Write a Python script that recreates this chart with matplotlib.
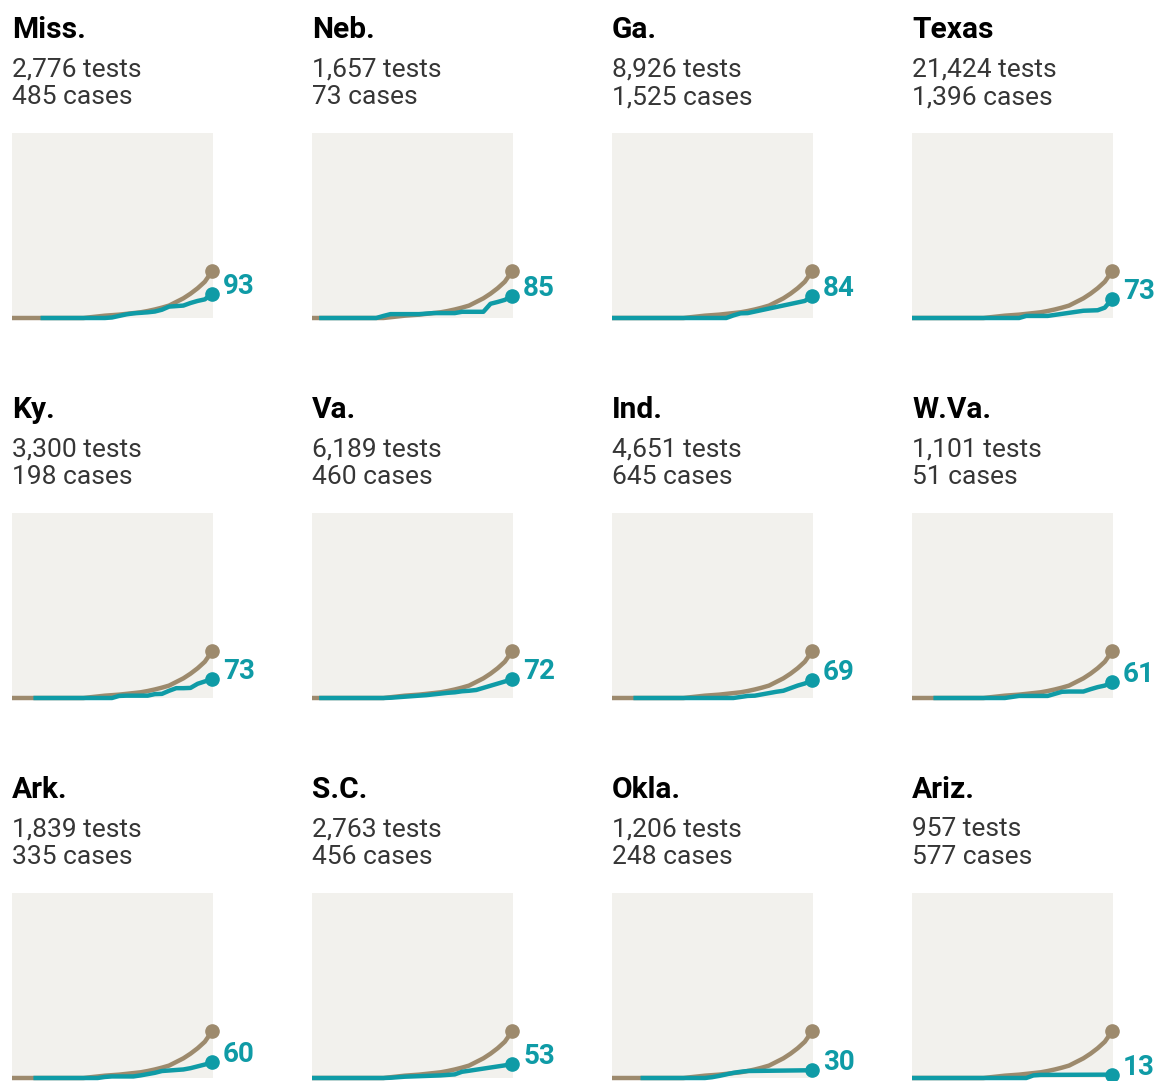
import matplotlib
matplotlib.use('Agg')
import matplotlib.pyplot as plt
import numpy as np

W, H = 1160, 1081
TAN = '#9d8a6d'
TEAL = '#0f9ba6'
BOX = '#f2f1ed'

states = ['Miss.', 'Neb.', 'Ga.', 'Texas',
          'Ky.', 'Va.', 'Ind.', 'W.Va.',
          'Ark.', 'S.C.', 'Okla.', 'Ariz.']
tests = ['2,776', '1,657', '8,926', '21,424',
         '3,300', '6,189', '4,651', '1,101',
         '1,839', '2,763', '1,206', '957']
cases = ['485', '73', '1,525', '1,396',
         '198', '460', '645', '51',
         '335', '456', '248', '577']
latest = [93, 85, 84, 73, 73, 72, 69, 61, 60, 53, 30, 13]

days = list(range(29))

# reference line, the same in every panel (tests per 100,000)
reference = [0, 0, 0, 0, 0, 0, 0, 0, 0, 0, 0, 3, 6, 9, 11, 13, 16, 19, 22,
             27, 33, 40, 48, 62, 76, 94, 115, 140, 180]

N = None
state_tests = {
    'Miss.': [N, N, N, N, 0, 0, 0, 0, 0, 0, 0, 0, 0, 0, 2, 8, 14, 18, 20,
              22, 25, 32, 44, 46, 48, 58, 66, 72, 93],
    'Neb.': [N, 0, 0, 0, 0, 0, 0, 0, 0, 0, 8, 15, 15, 15, 15, 15, 17, 19, 19,
             19, 19, 24, 24, 24, 24, 55, 62, 70, 85],
    'Ga.': [0, 0, 0, 0, 0, 0, 0, 0, 0, 0, 0, 0, 0, 0, 0, 0, 0, 10, 18,
            19, N, N, N, N, N, N, N, 66, 84],
    'Texas': [0, 0, 0, 0, 0, 0, 0, 0, 0, 0, 0, 0, 0, 0, 0, 0, 8, 8, 8,
              8, N, N, N, N, 28, 29, 30, 40, 73],
    'Ky.': [N, N, N, 0, 0, 0, 0, 0, 0, 0, 0, 0, 0, 0, 0, 8, 9, 9, 9,
            9, 15, 16, 28, 38, 38, 39, 55, 64, 73],
    'Va.': [N, 0, 0, 0, 0, 0, 0, 0, 0, 0, 0, 1, 3, 5, 7, 9, 11, 14, 17,
            20, 22, 26, 28, 31, N, N, N, N, 72],
    'Ind.': [N, N, N, 0, 0, 0, 0, 0, 0, 0, 0, 0, 0, 0, 0, 0, 0, 0, 4,
             8, 9, 14, 19, 24, 28, 38, 48, 56, 69],
    'W.Va.': [N, N, N, 0, 0, 0, 0, 0, 0, 0, 0, 0, 0, 0, 4, 8, 8, 8, 8,
              8, 16, 24, 25, 25, 25, 34, 42, 48, 61],
    'Ark.': [N, N, N, 0, 0, 0, 0, 0, 0, 0, 0, 0, 0, 4, 6, 6, 6, 6, 10,
             15, 20, 27, 29, 31, 33, 38, 45, 52, 60],
    'S.C.': [0, 0, 0, 0, 0, 0, 0, 0, 0, 0, 0, 1, 3, 5, 6, 7, 8, 9, 10,
             12, 14, 24, 28, N, N, N, N, N, 53],
    'Okla.': [N, N, N, N, 0, 0, 0, 0, 0, 0, 0, 0, 0, 0, 3, 8, 14, 20, 24,
              27, N, N, N, N, N, N, N, N, 30],
    'Ariz.': [0, 0, 0, 0, 0, 0, 0, 0, 0, 0, 0, 0, 0, 0, 0, 0, 0, 10, 12,
              N, N, N, N, N, N, N, N, N, 13],
}

fig = plt.figure(figsize=(W / 100, H / 100), dpi=100)
FONT = 'Roboto'


def fx(px):
    return px / W


def fy(py):
    return 1 - py / H


for i, st in enumerate(states):
    r, c = divmod(i, 4)
    left = 12 + 300 * c
    top = 133 + 380 * r
    ax = fig.add_axes([fx(left), fy(top + 185), 201 / W, 185 / H])
    ax.set_facecolor(BOX)
    for s in ax.spines.values():
        s.set_visible(False)
    ax.set_xticks([])
    ax.set_yticks([])
    ax.set_xlim(0, 28.15)
    ax.set_ylim(0, 715)

    ax.plot(days, reference, color=TAN, lw=3.2, solid_capstyle='butt',
            solid_joinstyle='round', clip_on=False, zorder=2)
    ax.plot(days[-1], reference[-1], 'o', color=TAN, ms=9.5, clip_on=False, zorder=3)

    pts = [(d, v) for d, v in zip(days, state_tests[st]) if v is not None]
    xs = [p[0] for p in pts]
    ys = [p[1] for p in pts]
    ax.plot(xs, ys, color=TEAL, lw=3.2, solid_capstyle='butt',
            solid_joinstyle='round', clip_on=False, zorder=4)
    ax.plot(xs[-1], ys[-1], 'o', color=TEAL, ms=9.5, clip_on=False, zorder=5)
    ax.annotate(str(latest[i]), (xs[-1], ys[-1]), xytext=(8, 0),
                textcoords='offset points', color=TEAL, fontsize=20,
                fontweight='bold', family=FONT, va='baseline', ha='left',
                annotation_clip=False)

    ty = 27 + 380 * r
    fig.text(fx(left), fy(ty + 10.5), st, fontsize=21.5, fontweight='bold',
             family=FONT, color='#000000', va='baseline', ha='left')
    fig.text(fx(left), fy(ty + 49), tests[i] + ' tests', fontsize=19,
             family=FONT, color='#363636', va='baseline', ha='left')
    fig.text(fx(left), fy(ty + 77), cases[i] + ' cases', fontsize=19,
             family=FONT, color='#363636', va='baseline', ha='left')

fig.savefig('out.png', dpi=100)
